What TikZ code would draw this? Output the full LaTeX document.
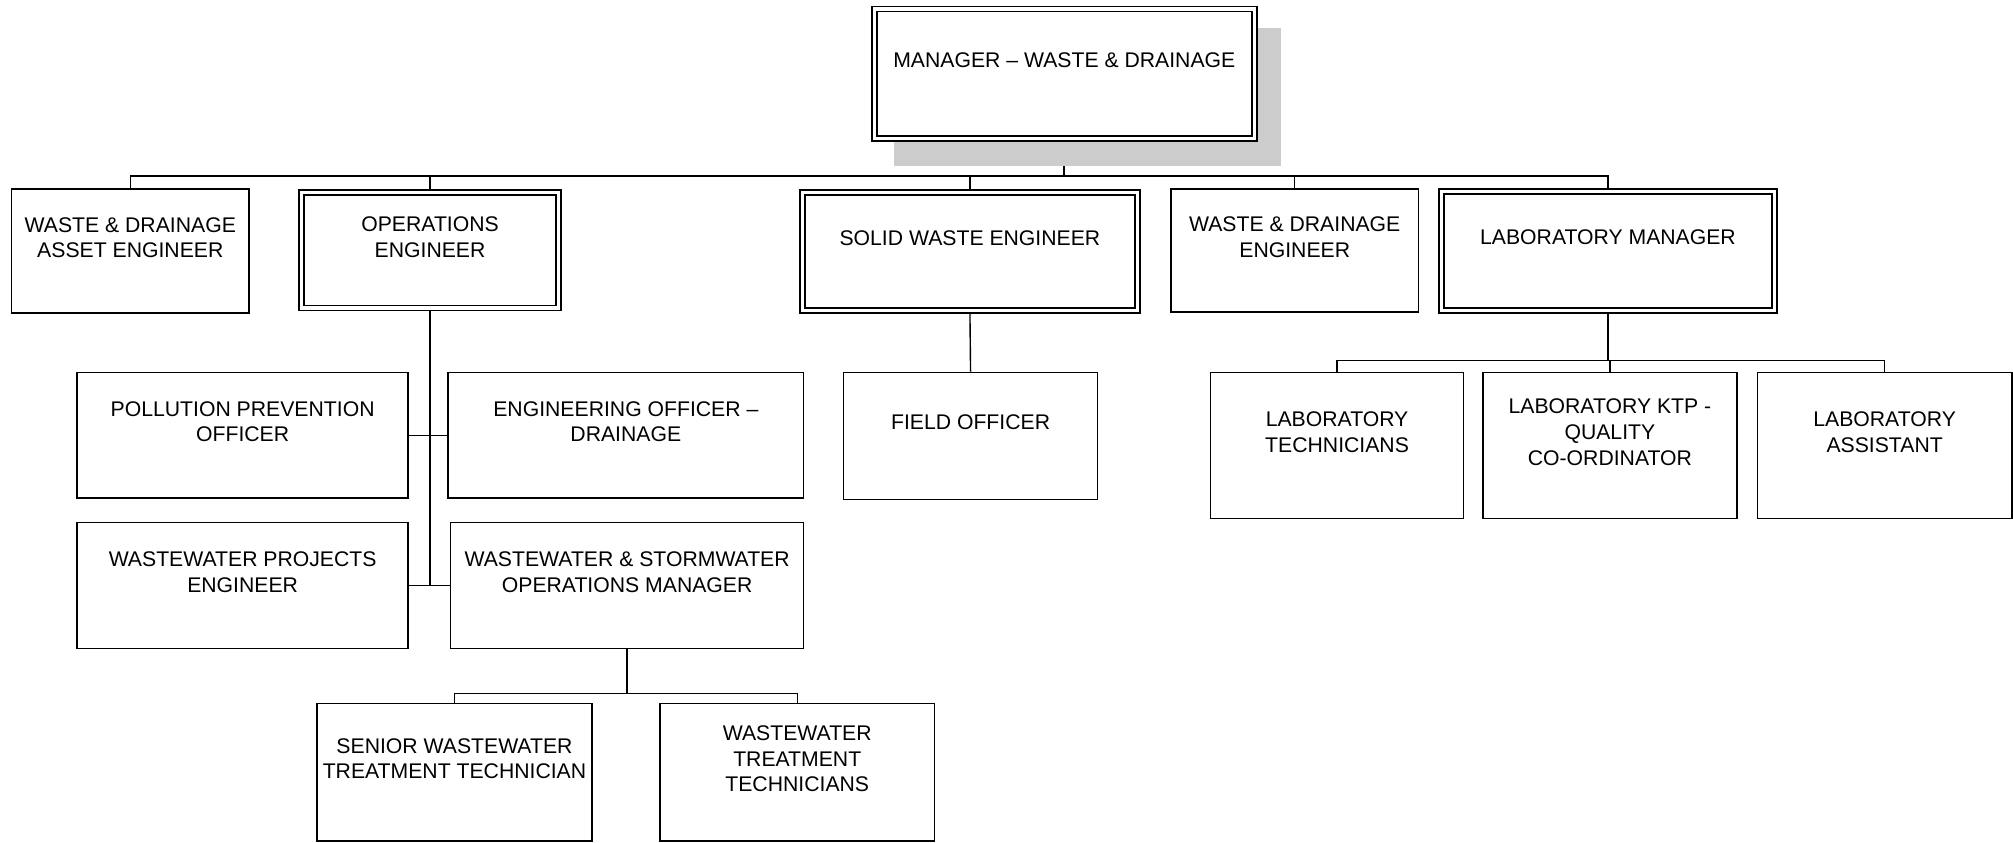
\documentclass[tikz,border=0pt]{standalone}
\usepackage{fontspec}
\setmainfont{Liberation Sans}
\usetikzlibrary{backgrounds}
\def\u{0.6419pt}
\tikzset{
  box/.style={draw, line width=0.8pt, fill=white, rectangle, inner sep=0pt},
  dbox/.style={box, double, double distance=1.7pt},
  lbl/.style={align=center, inner sep=0pt, yshift=6.7pt, font=\fontsize{10.6}{12.84}\selectfont},
  conn/.style={line width=0.7pt},
  mainconn/.style={line width=1.1pt},
}
\newcommand\orgbox[7]{%
  \node[#1, minimum width={(#5-#3)*\u}, minimum height={(#6-#4)*\u},
        label={[lbl]center:#7}] (#2) at ({(#3+#5)/2},{(#4+#6)/2}) {};}
\begin{document}
\begin{tikzpicture}[x=\u, y=-\u]
\useasboundingbox (0,0) rectangle (1568,656);
% shadow
\fill[black!20] (696,22) rectangle (998,129);
\orgbox{dbox}{mgr}{681}{7}{977}{108}{MANAGER -- WASTE \& DRAINAGE}
\orgbox{box}{asset}{9}{147}{194}{244}{WASTE \& DRAINAGE\\ASSET ENGINEER}
\orgbox{dbox}{ops}{235}{150}{435}{240}{OPERATIONS\\ENGINEER}
\orgbox{dbox}{solid}{625}{150}{886}{242}{SOLID WASTE ENGINEER}
\orgbox{box}{wde}{912}{147}{1105}{243}{WASTE \& DRAINAGE\\ENGINEER}
\orgbox{dbox}{labm}{1123}{149}{1382}{242}{LABORATORY MANAGER}
\orgbox{box}{poll}{60}{290}{318}{388}{POLLUTION PREVENTION\\OFFICER}
\orgbox{box}{engo}{349}{290}{626}{388}{ENGINEERING OFFICER --\\DRAINAGE}
\orgbox{box}{wwp}{60}{407}{318}{505}{WASTEWATER PROJECTS\\ENGINEER}
\orgbox{box}{wwsw}{351}{407}{626}{505}{WASTEWATER \& STORMWATER\\OPERATIONS MANAGER}
\orgbox{box}{senior}{247}{548}{461}{655}{SENIOR WASTEWATER\\TREATMENT TECHNICIAN}
\orgbox{box}{wwt}{514}{548}{728}{655}{WASTEWATER\\TREATMENT\\TECHNICIANS}
\orgbox{box}{field}{657}{290}{855}{389}{FIELD OFFICER}
\orgbox{box}{labt}{943}{290}{1140}{404}{LABORATORY\\TECHNICIANS}
\orgbox{box}{ktp}{1155}{290}{1353}{404}{LABORATORY KTP -\\QUALITY\\CO-ORDINATOR}
\orgbox{box}{laba}{1369}{290}{1567}{404}{LABORATORY\\ASSISTANT}
\coordinate (bus) at (829,137);
\coordinate (opsbus) at (334,456);
\coordinate (wwbus) at (488,540);
\coordinate (labbus) at (1253,281);
\begin{scope}[on background layer]
\draw[mainconn] (mgr.south) -- (bus);
\draw[conn] (asset.north) |- (bus) -| (labm.north);
\draw[conn] (ops.north) -- (ops.north |- bus);
\draw[conn] (solid.north) -- (solid.north |- bus);
\draw[conn] (wde.north) -- (wde.north |- bus);
\draw[mainconn] (ops.south) -- (ops.south |- wwp.east);
\draw[conn] (poll.east) -- (engo.west);
\draw[conn] (wwp.east) -- (wwsw.west);
\draw[conn] (wwsw.south) -- (wwsw.south |- wwbus);
\draw[conn] (senior.north) |- (wwbus) -| (wwt.north);
\draw[conn] (solid.south) -- (field.north);
\draw[conn] (labm.south) -- (labm.south |- labbus);
\draw[conn] (labt.north) |- (labbus) -| (laba.north);
\draw[conn] (ktp.north) -- (ktp.north |- labbus);
\end{scope}
\end{tikzpicture}
\end{document}
